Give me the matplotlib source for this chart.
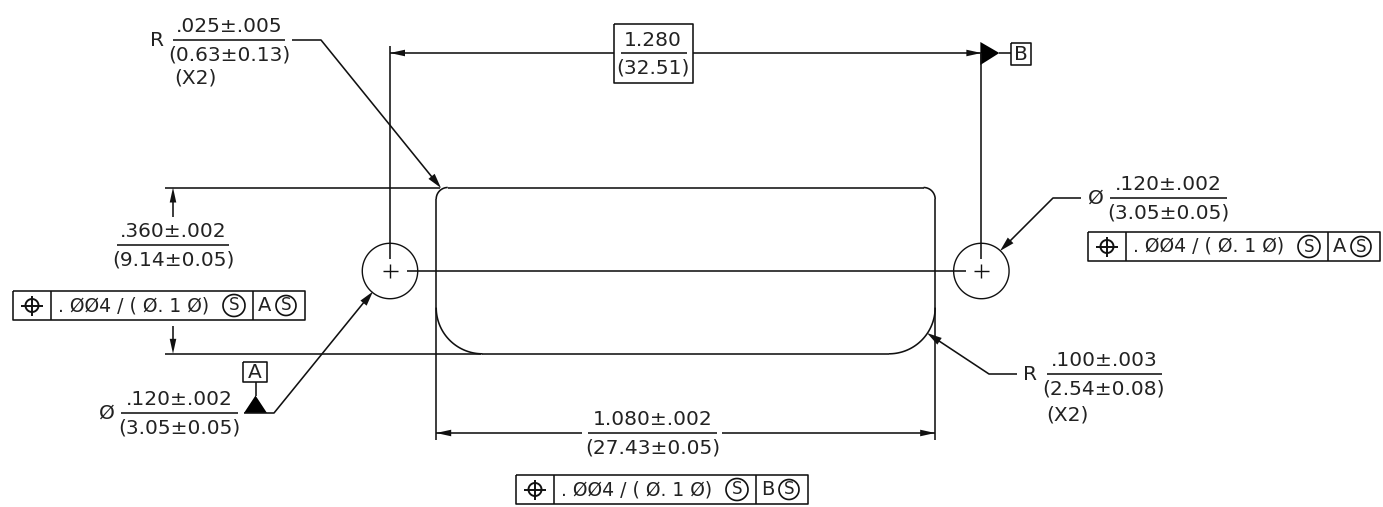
import numpy as np
import matplotlib
matplotlib.use('Agg')
import matplotlib.pyplot as plt

# dimensions, in inches
hole_spacing = 1.280
slot_width = 1.080
slot_height = 0.360
hole_dia = 0.120
top_radius = 0.025
bottom_radius = 0.100

# callout texts
spacing_text = ['1.280', '(32.51)']
width_text = ['1.080±.002', '(27.43±0.05)']
height_text = ['.360±.002', '(9.14±0.05)']
hole_text = ['.120±.002', '(3.05±0.05)']
top_radius_text = ['.025±.005', '(0.63±0.13)']
bottom_radius_text = ['.100±.003', '(2.54±0.08)']
times_text = '(X2)'
tol_text = '. ØØ4 / ( Ø. 1 Ø)'

# drawing scale, pixels per inch, and where the left hole sits
PPI = 462
X0 = 390
Y0 = 271
TOP = 187.5
INK = '#111111'
FS = 14.5
LW = 1.15

fig = plt.figure(figsize=(13.83, 5.07), dpi=100)
ax = fig.add_axes([0, 0, 1, 1])
ax.set_xlim(0, 1383)
ax.set_ylim(507, 0)
ax.axis('off')


def line(xs, ys, lw=LW):
    ax.plot(xs, ys, color=INK, lw=lw, solid_capstyle='butt')


def label(x, y, s, size=FS, **kw):
    ax.text(x, y, s, fontsize=size, color='#222222', ha='center', va='center', **kw)


def arrow(tip_x, tip_y, from_x, from_y, length=15, half=3.3):
    d = np.array([from_x - tip_x, from_y - tip_y], dtype=float)
    d /= np.hypot(*d)
    n = np.array([-d[1], d[0]])
    tip = np.array([tip_x, tip_y])
    pts = [tip, tip + d * length + n * half, tip + d * length - n * half]
    ax.fill(*zip(*pts), color=INK, lw=0)


def fraction(xc, yline, x1, x2, lines):
    line([x1, x2], [yline, yline])
    label(xc, yline - 13.5, lines[0])
    label(xc, yline + 15, lines[1])


def corner(cx, cy, r, a1, a2):
    t = np.radians(np.linspace(a1, a2, 40))
    line(cx + r * np.cos(t), cy + r * np.sin(t))


def box(x1, y1, x2, y2):
    line([x1, x2, x2, x1, x1], [y1, y1, y2, y2, y1])


def hole(cx, cy, r):
    t = np.radians(np.linspace(0, 360, 120))
    line(cx + r * np.cos(t), cy + r * np.sin(t), lw=1.0)
    line([cx - 7.5, cx + 7.5], [cy, cy], lw=1.0)
    line([cx, cx], [cy - 7, cy + 7], lw=1.0)


def tol_frame(x, y, letter):
    # feature control frame: symbol, tolerance, datum
    w, h = 292, 29
    box(x, y, x + w, y + h)
    line([x + 38, x + 38], [y, y + h])
    line([x + 240, x + 240], [y, y + h])
    cy = y + h / 2
    t = np.radians(np.linspace(0, 360, 60))
    line(x + 19 + 6.5 * np.cos(t), cy + 6.5 * np.sin(t), lw=1.4)
    line([x + 8, x + 30], [cy, cy], lw=1.4)
    line([x + 19, x + 19], [cy - 10, cy + 10], lw=1.4)
    ax.text(x + 45, cy, tol_text, fontsize=13.5, color='#222222', ha='left', va='center')
    for cx, r in [(x + 221, 11), (x + 273, 10)]:
        t = np.radians(np.linspace(0, 360, 60))
        line(cx + r * np.cos(t), cy + r * np.sin(t), lw=1.2)
        label(cx, cy, 'S', size=12)
    label(x + 252, cy, letter, size=14)


# slot outline
x_left = X0 + (hole_spacing - slot_width) / 2 * PPI
x_right = x_left + slot_width * PPI
bottom = TOP + slot_height * PPI
r_top = top_radius * PPI
r_bot = bottom_radius * PPI
line([x_left + r_top, x_right - r_top], [TOP, TOP])
line([x_left + r_bot, x_right - r_bot], [bottom, bottom])
line([x_left, x_left], [TOP + r_top, 440])
line([x_right, x_right], [TOP + r_top, 440])
corner(x_left + r_top, TOP + r_top, r_top, 180, 270)
corner(x_right - r_top, TOP + r_top, r_top, 270, 360)
corner(x_left + r_bot, bottom - r_bot, r_bot, 90, 180)
corner(x_right - r_bot, bottom - r_bot, r_bot, 0, 90)

# holes, centre lines
x_hole2 = X0 + hole_spacing * PPI
r_hole = hole_dia / 2 * PPI
hole(X0, Y0, r_hole)
hole(x_hole2, Y0, r_hole)
line([X0 + 17, x_hole2 - 15], [Y0, Y0])
line([X0, X0], [46, Y0 - 12])
line([x_hole2, x_hole2], [53, Y0 - 12])

# 1.280 dimension with boxed basic value
line([X0, 614], [53, 53])
line([693, x_hole2], [53, 53])
arrow(X0, 53, X0 + 20, 53)
arrow(x_hole2, 53, x_hole2 - 20, 53)
box(614, 24, 693, 83)
line([621, 687], [53, 53])
label(653, 40, spacing_text[0])
label(653, 68, spacing_text[1])
ax.fill([x_hole2 - 1, x_hole2 + 18, x_hole2 - 1], [42, 53, 65], color='black', lw=0)
line([x_hole2 + 18, 1011], [53, 53])
box(1011, 43, 1031, 65)
label(1021, 54, 'B')

# 1.080 dimension
line([x_left, 582], [433, 433])
line([722, x_right], [433, 433])
arrow(x_left, 433, x_left + 20, 433)
arrow(x_right, 433, x_right - 20, 433)
fraction(653, 433, 588, 717, width_text)
tol_frame(516, 475, 'B')

# .360 dimension
line([165, x_left + 4], [TOP, TOP])
line([165, x_left + 45], [bottom, bottom])
line([173, 173], [TOP + 29, TOP + 12])
arrow(173, TOP, 173, TOP + 20)
line([173, 173], [326, bottom - 12])
arrow(173, bottom, 173, bottom - 20)
fraction(173, 245, 117, 229, height_text)
tol_frame(13, 291, 'A')

# top corner radius callout
label(157, 41, 'R')
fraction(229, 40, 173, 285, top_radius_text)
label(195, 78, times_text)
line([292, 321, 436], [40, 40, 182])
arrow(441, 188, 321, 40, half=4)

# left hole callout and datum A
label(107, 413, 'Ø')
fraction(179, 413, 121, 238, hole_text)
line([244, 274, 369], [413, 413, 296])
arrow(373, 291.5, 274, 413, half=4)
ax.fill([244, 255.5, 267], [413, 395.5, 413], color='black', lw=0)
line([255.5, 255.5], [382, 396])
box(243, 362, 267, 382)
label(255, 372, 'A')

# right hole callout
label(1096, 198, 'Ø')
fraction(1168, 198, 1110, 1227, hole_text)
line([1081, 1053, 1005], [198, 198, 246])
arrow(1000, 251, 1053, 198, half=4)
tol_frame(1088, 232, 'A')

# bottom corner radius callout
label(1030, 374, 'R')
fraction(1104, 374, 1047, 1162, bottom_radius_text)
label(1067, 415, times_text)
line([1017, 989, 933], [374, 374, 337])
arrow(927, 333, 989, 374, half=4)

fig.savefig('out.png', dpi=100)
